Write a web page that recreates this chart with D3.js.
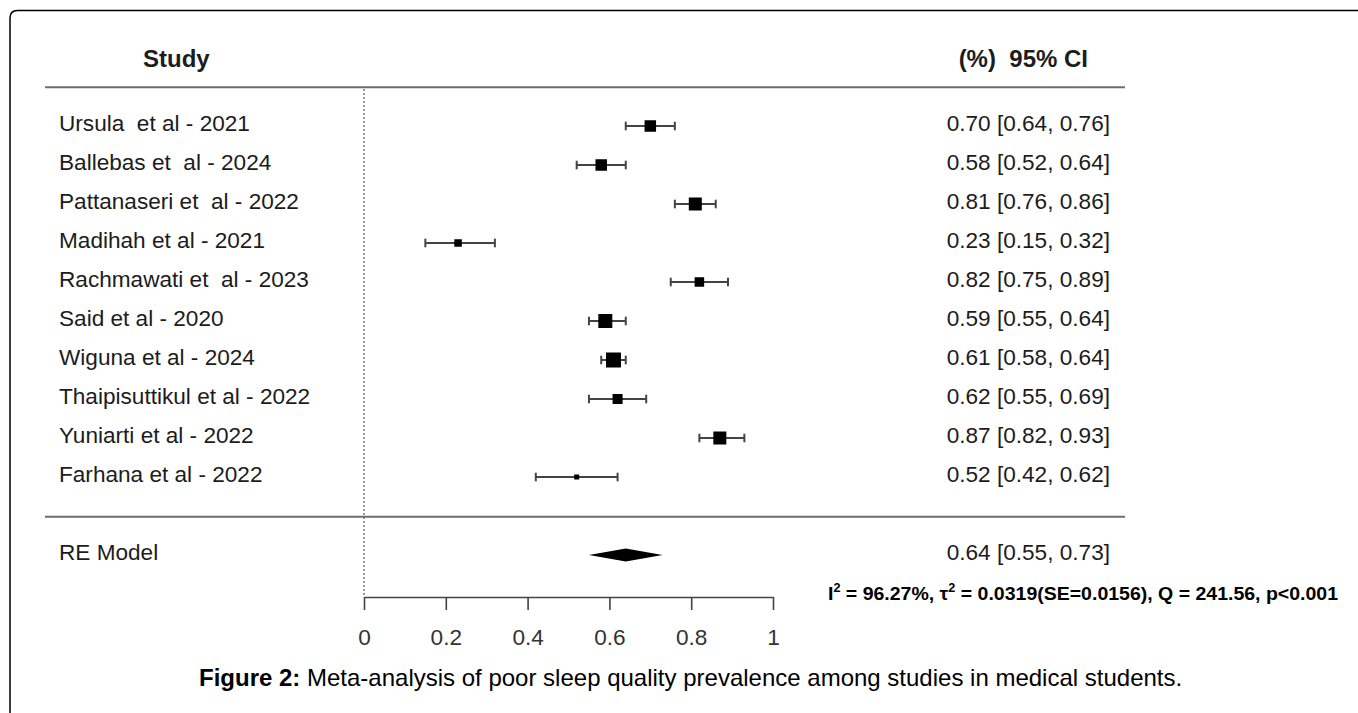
<!DOCTYPE html>
<html>
<head>
<meta charset="utf-8">
<script src="https://cdnjs.cloudflare.com/ajax/libs/d3/7.8.5/d3.min.js"></script>
<style>
  body { margin: 0; background: #fff; }
  text { font-family: "Liberation Sans", Arial, Helvetica, sans-serif; white-space: pre; }
</style>
</head>
<body>
<svg id="chart"></svg>
<script>
// data
const studies = [
  "Ursula  et al - 2021",
  "Ballebas et  al - 2024",
  "Pattanaseri et  al - 2022",
  "Madihah et al - 2021",
  "Rachmawati et  al - 2023",
  "Said et al - 2020",
  "Wiguna et al - 2024",
  "Thaipisuttikul et al - 2022",
  "Yuniarti et al - 2022",
  "Farhana et al - 2022"
];
const estimates = [0.70, 0.58, 0.81, 0.23, 0.82, 0.59, 0.61, 0.62, 0.87, 0.52];
const lower     = [0.64, 0.52, 0.76, 0.15, 0.75, 0.55, 0.58, 0.55, 0.82, 0.42];
const upper     = [0.76, 0.64, 0.86, 0.32, 0.89, 0.64, 0.64, 0.69, 0.93, 0.62];
// relative weights (estimated from square sizes)
const weights   = [10.1, 10.1, 10.4, 9.3, 9.7, 10.6, 10.8, 9.8, 10.4, 8.8];
const pooled = {label: "RE Model", est: 0.64, lo: 0.55, hi: 0.73};
const xTicks = [0, 0.2, 0.4, 0.6, 0.8, 1];

const W = 1358, H = 713;
const svg = d3.select("#chart").attr("width", W).attr("height", H);
svg.append("rect").attr("width", W).attr("height", H).attr("fill", "#fff");

// frame (only top and left edges are visible)
svg.append("path")
    .attr("d", "M10,713 V18 Q10,10.5 17.5,10.5 H1358")
    .attr("fill", "none").attr("stroke", "#000").attr("stroke-width", 1.5);

const x = d3.scaleLinear().domain([0, 1]).range([364, 773]);
const y = d3.scaleLinear().domain([0, 11]).range([126, 555]);
const size = d3.scaleLinear().domain(d3.extent(weights)).range([5, 15]);

const rows = studies.map((s, i) => ({
  name: s, est: estimates[i], lo: lower[i], hi: upper[i], w: weights[i], i: i
}));

const fmt = d3.format(".2f");
const textCol = "#1c1c1c";
const fs = 22.6;

// headers
svg.append("text").attr("x", 143).attr("y", 67)
    .attr("font-size", 24).attr("font-weight", "bold").attr("fill", textCol)
    .text("Study");
svg.append("text").attr("x", 1088).attr("y", 67).attr("text-anchor", "end")
    .attr("font-size", 24).attr("font-weight", "bold").attr("fill", textCol)
    .text("(%)  95% CI");

// horizontal rules
[-1, 10].forEach(r => {
  svg.append("line")
      .attr("x1", 45).attr("x2", 1125)
      .attr("y1", y(r) + (r < 0 ? 0.3 : 0.7)).attr("y2", y(r) + (r < 0 ? 0.3 : 0.7))
      .attr("stroke", "#6e6e6e").attr("stroke-width", 2);
});

// reference line at 0
svg.append("line")
    .attr("x1", x(0)).attr("x2", x(0))
    .attr("y1", y(-1) + 2).attr("y2", 597)
    .attr("stroke", "#555").attr("stroke-width", 1.2)
    .attr("stroke-dasharray", "2,2");

// study labels and CI text
svg.selectAll(".lab").data(rows).join("text")
    .attr("class", "lab")
    .attr("x", 59).attr("y", d => y(d.i) + 5)
    .attr("font-size", fs).attr("fill", textCol)
    .text(d => d.name);

svg.selectAll(".ci").data(rows).join("text")
    .attr("class", "ci")
    .attr("x", 1110).attr("y", d => y(d.i) + 5)
    .attr("text-anchor", "end")
    .attr("font-size", fs).attr("fill", textCol)
    .text(d => `${fmt(d.est)} [${fmt(d.lo)}, ${fmt(d.hi)}]`);

// error bars
const bars = svg.append("g").attr("stroke", "#444").attr("stroke-width", 2);
bars.selectAll(".bar").data(rows).join("line")
    .attr("x1", d => x(d.lo)).attr("x2", d => x(d.hi))
    .attr("y1", d => y(d.i)).attr("y2", d => y(d.i));
bars.selectAll(".capL").data(rows).join("line")
    .attr("x1", d => x(d.lo)).attr("x2", d => x(d.lo))
    .attr("y1", d => y(d.i) - 4.3).attr("y2", d => y(d.i) + 4.3);
bars.selectAll(".capR").data(rows).join("line")
    .attr("x1", d => x(d.hi)).attr("x2", d => x(d.hi))
    .attr("y1", d => y(d.i) - 4.3).attr("y2", d => y(d.i) + 4.3);

// squares sized by weight
svg.selectAll(".sq").data(rows).join("rect")
    .attr("class", "sq")
    .attr("x", d => x(d.est) - size(d.w) / 2)
    .attr("y", d => y(d.i) - size(d.w) / 2)
    .attr("width", d => size(d.w)).attr("height", d => size(d.w))
    .attr("fill", "#000");

// pooled estimate
const py = y(11);
svg.append("text").attr("x", 59).attr("y", py + 5)
    .attr("font-size", fs).attr("fill", textCol).text(pooled.label);
svg.append("text").attr("x", 1110).attr("y", py + 5).attr("text-anchor", "end")
    .attr("font-size", fs).attr("fill", textCol)
    .text(`${fmt(pooled.est)} [${fmt(pooled.lo)}, ${fmt(pooled.hi)}]`);
svg.append("path")
    .attr("d", `M${x(pooled.lo)},${py} L${x(pooled.est)},${py - 6.5} L${x(pooled.hi)},${py} L${x(pooled.est)},${py + 6.5} Z`)
    .attr("fill", "#000");

// x axis
const axis = svg.append("g")
    .attr("transform", "translate(0,597)")
    .call(d3.axisBottom(x).tickValues(xTicks).tickSize(13).tickSizeOuter(0)
        .tickFormat(d => d === 0 || d === 1 ? String(d) : d3.format(".1f")(d)));
axis.select(".domain").attr("stroke", "#444").attr("stroke-width", 1.6);
axis.selectAll(".tick line").attr("stroke", "#444").attr("stroke-width", 1.6);
axis.selectAll(".tick text")
    .attr("y", 48).attr("dy", 0)
    .attr("font-size", fs).attr("fill", "#333")
    .attr("font-family", "'Liberation Sans', Arial, sans-serif");

// heterogeneity statistics
const st = svg.append("text").attr("x", 828).attr("y", 600)
    .attr("font-family", "'Open Sans', sans-serif")
    .attr("font-size", 18.5).attr("font-weight", "bold").attr("fill", "#000");
st.append("tspan").text("I");
st.append("tspan").attr("font-size", 12).attr("dy", -8).text("2");
st.append("tspan").attr("dy", 8).text(" = 96.27%, τ");
st.append("tspan").attr("font-size", 12).attr("dy", -8).text("2");
st.append("tspan").attr("dy", 8).text(" = 0.0319(SE=0.0156), Q = 241.56, p<0.001");
// fit to the width it takes in the figure
st.attr("textLength", 510).attr("lengthAdjust", "spacingAndGlyphs");

// caption
const cap = svg.append("text").attr("x", 199).attr("y", 686)
    .attr("font-size", 24).attr("fill", "#000");
cap.append("tspan").attr("font-weight", "bold").text("Figure 2:");
cap.append("tspan").text(" Meta-analysis of poor sleep quality prevalence among studies in medical students.");
</script>
</body>
</html>
